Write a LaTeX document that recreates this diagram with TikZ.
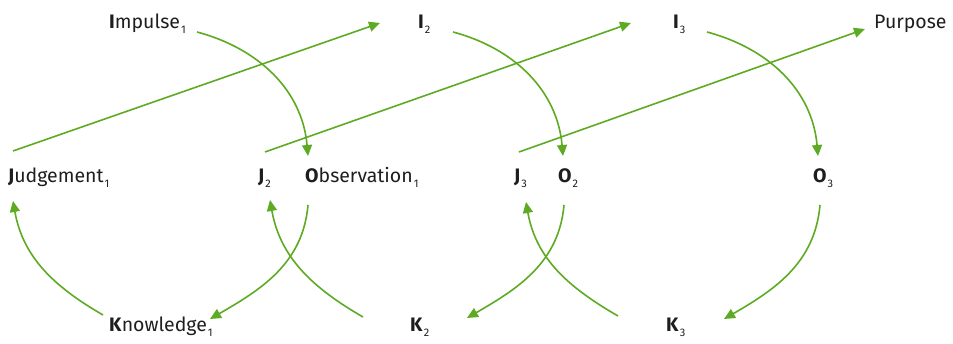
\documentclass[tikz,border=0pt]{standalone}
\usepackage{fontspec}
\setmainfont{Fira Sans}
\usetikzlibrary{arrows.meta}

\definecolor{leaf}{RGB}{94,170,34}
\definecolor{ink}{RGB}{30,30,30}
\newcommand{\ix}[1]{\kern1pt\raisebox{-5pt}{\fontsize{11}{11}\selectfont#1}}

\begin{document}
\begin{tikzpicture}[
    x=1pt, y=1pt,
    lbl/.style={anchor=base west, inner sep=0pt, text=ink, font=\fontsize{19.5}{21}\selectfont},
    arr/.style={-{Triangle[length=11pt, width=10pt]}, line width=1.6pt, draw=leaf}
  ]
  \useasboundingbox (0,0) rectangle (953,344);

  % top row
  \node[lbl] (imp1) at (109,315) {\textbf{I}mpulse\ix{1}};
  \node[lbl] (i2) at (418,315) {\textbf{I}\ix{2}};
  \node[lbl] (i3) at (673,315) {\textbf{I}\ix{3}};
  \node[lbl] (purp) at (874,315) {Purpose};

  % middle row
  \node[lbl] (jud1) at (8,161) {\textbf{J}udgement\ix{1}};
  \node[lbl] (j2) at (258,161) {\textbf{J}\ix{2}};
  \node[lbl] (obs1) at (305,161) {\textbf{O}bservation\ix{1}};
  \node[lbl] (j3) at (514,161) {\textbf{J}\ix{3}};
  \node[lbl] (o2) at (558,161) {\textbf{O}\ix{2}};
  \node[lbl] (o3) at (813,161) {\textbf{O}\ix{3}};

  % bottom row
  \node[lbl] (know1) at (109,12) {\textbf{K}nowledge\ix{1}};
  \node[lbl] (k2) at (410,12) {\textbf{K}\ix{2}};
  \node[lbl] (k3) at (666,12) {\textbf{K}\ix{3}};

  % judgement -> next impulse
  \draw[arr] ([shift={(5,32)}]jud1.base west) -- ([shift={(-38,6)}]i2.base west);
  \draw[arr] ([shift={(7,31)}]j2.base west) -- ([shift={(-42,6)}]i3.base west);
  \draw[arr] ([shift={(5,31)}]j3.base west) -- ([shift={(-9,0)}]purp.base west);

  % impulse -> observation
  \draw[arr] ([shift={(88,-3)}]imp1.base west) to[out=-15, in=95] ([shift={(3,27)}]obs1.base west);
  \draw[arr] ([shift={(35,-3)}]i2.base west) to[out=-15, in=95] ([shift={(5,27)}]o2.base west);
  \draw[arr] ([shift={(34,-3)}]i3.base west) to[out=-15, in=95] ([shift={(5,27)}]o3.base west);

  % observation -> knowledge
  \draw[arr] ([shift={(3,-22)}]obs1.base west) to[out=-95, in=30] ([shift={(101,13)}]know1.base west);
  \draw[arr] ([shift={(6,-22)}]o2.base west) to[out=-95, in=30] ([shift={(57,14)}]k2.base west);
  \draw[arr] ([shift={(7,-22)}]o3.base west) to[out=-95, in=30] ([shift={(58,13)}]k3.base west);

  % knowledge -> judgement
  \draw[arr] ([shift={(-6,17)}]know1.base west) to[out=150, in=-80] ([shift={(5,-18)}]jud1.base west);
  \draw[arr] ([shift={(-47,15)}]k2.base west) to[out=150, in=-80] ([shift={(12,-17)}]j2.base west);
  \draw[arr] ([shift={(-48,16)}]k3.base west) to[out=150, in=-80] ([shift={(12,-19)}]j3.base west);
\end{tikzpicture}
\end{document}
